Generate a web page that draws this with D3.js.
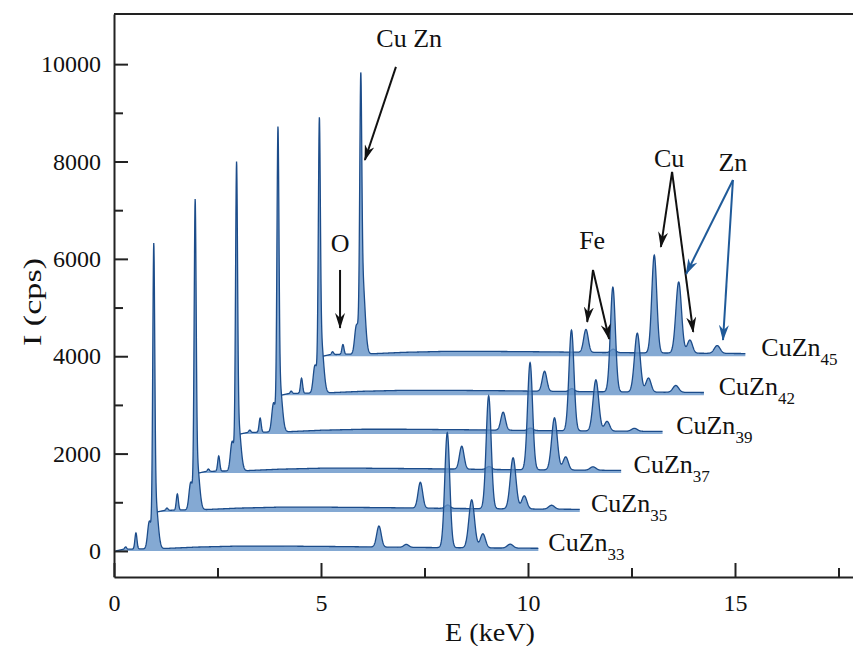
<!DOCTYPE html>
<html><head><meta charset="utf-8">
<script src="https://cdn.jsdelivr.net/npm/d3@7"></script>
<style>
body{margin:0;background:#fff;}
svg{display:block;}
</style>
</head><body>
<svg id="chart" width="853" height="646"></svg>
<script>
// ---- data ----
const samples = ["CuZn33","CuZn35","CuZn37","CuZn39","CuZn42","CuZn45"];
const sampleSubs = ["33","35","37","39","42","45"];
const xShift = [0, 1, 2, 3, 4, 5];              // keV offset of each spectrum
const yShift = [0, 800, 1600, 2400, 3200, 4000]; // cps offset of each spectrum
const eStart = 0.04, eEnd = 10.25;               // keV range of each spectrum

// X-ray lines: C K, O K, L shoulder, L main, L broad, Fe Ka, Fe Kb, Cu Ka, Zn Ka, Cu Kb, Zn Kb
const lineE     = [0.28, 0.53, 0.85, 0.96, 1.00, 6.40, 7.06, 8.05, 8.64, 8.91, 9.57];
const lineSigma = [0.025, 0.025, 0.04, 0.024, 0.06, 0.055, 0.06, 0.06, 0.068, 0.062, 0.07];
// peak heights (cps above background) per spectrum
const peakC     = [50, 50, 50, 50, 50, 60];
const peakO     = [330, 330, 310, 290, 310, 200];
const peakLsh   = [520, 520, 560, 550, 520, 520];
const peakL     = [5465, 5570, 5540, 5460, 4770, 4490];
const peakLb    = [1000, 1000, 1000, 1000, 1100, 1600];
const peakFeKa  = [430, 530, 470, 370, 410, 470];
const peakFeKb  = [60, 70, 60, 50, 60, 70];
const peakCuKa  = [2360, 2320, 2200, 2070, 2150, 2010];
const peakZnKa  = [985, 1050, 1070, 1050, 1210, 1460];
const peakCuKb  = [290, 270, 270, 200, 290, 270];
const peakZnKb  = [80, 80, 70, 60, 140, 160];
// background (bremsstrahlung) level read at a few energies
const bgE = [0.04, 0.2, 0.5, 1.2, 2.0, 3.0, 4.0, 5.5, 7.0, 8.5, 10.25];
const bgI = [0, 30, 40, 50, 80, 100, 100, 90, 75, 65, 55];

const xTicksMajor = [0, 5, 10, 15];
const xTicksMinor = [2.5, 7.5, 12.5, 17.5];
const yTicksMajor = [0, 2000, 4000, 6000, 8000, 10000];
const yTicksMinor = [1000, 3000, 5000, 7000, 9000];

// ---- chart ----
const FONT = '"Liberation Serif", "Times New Roman", Tinos, "DejaVu Serif", serif';
const svg = d3.select("#chart");
const x = d3.scaleLinear().domain([0, 18]).range([114, 859.2]);
const y = d3.scaleLinear().domain([-535, 11030]).range([577, 14]);
const bg = d3.scaleLinear().domain(bgE).range(bgI).clamp(true);

const peakTable = [peakC, peakO, peakLsh, peakL, peakLb, peakFeKa, peakFeKb, peakCuKa, peakZnKa, peakCuKb, peakZnKb];

function spectrum(i) {
  const pts = [];
  for (let e = eStart; e <= eEnd + 1e-9; e += 0.005) {
    let v = bg(e);
    for (let k = 0; k < lineE.length; k++) {
      const d = e - lineE[k], s = lineSigma[k];
      v += peakTable[k][i] * Math.exp(-d * d / (2 * s * s));
    }
    pts.push([e, v]);
  }
  return pts;
}

const gSpec = svg.append("g");
const order = d3.range(samples.length).reverse();
order.forEach(i => {
  const pts = spectrum(i);
  const area = d3.area()
    .x(d => x(d[0] + xShift[i]))
    .y0(y(yShift[i]))
    .y1(d => y(d[1] + yShift[i]));
  const line = d3.line()
    .x(d => x(d[0] + xShift[i]))
    .y(d => y(d[1] + yShift[i]));
  gSpec.append("path").attr("d", area(pts))
    .attr("fill", "#6593c8").attr("fill-opacity", 0.8);
  gSpec.append("path").attr("d", line(pts))
    .attr("fill", "none").attr("stroke", "#1c4c8a").attr("stroke-width", 1.3);
});

// sample labels
samples.forEach((s, i) => {
  const t = svg.append("text")
    .attr("x", x(eEnd + xShift[i]) + 10 + 1.2 * i)
    .attr("y", y(yShift[i]))
    .attr("font-family", FONT).attr("fill", "#111")
    .attr("font-size", 26);
  t.append("tspan").text("CuZn");
  t.append("tspan").attr("font-size", 17).attr("dy", 9).text(sampleSubs[i]);
});

// axes
const axisColor = "#222";
const gx = svg.append("g").attr("transform", `translate(0,${y.range()[0]})`)
  .call(d3.axisBottom(x).tickValues(xTicksMajor).tickSizeInner(-14).tickSizeOuter(0).tickPadding(17).tickFormat(d3.format("d")));
const gxm = svg.append("g").attr("transform", `translate(0,${y.range()[0]})`)
  .call(d3.axisBottom(x).tickValues(xTicksMinor).tickSizeInner(-9).tickSizeOuter(0).tickFormat(""));
const gy = svg.append("g").attr("transform", `translate(${x(0)},0)`)
  .call(d3.axisLeft(y).tickValues(yTicksMajor).tickSizeInner(-14).tickSizeOuter(0).tickPadding(13).tickFormat(d3.format("d")));
const gym = svg.append("g").attr("transform", `translate(${x(0)},0)`)
  .call(d3.axisLeft(y).tickValues(yTicksMinor).tickSizeInner(-9).tickSizeOuter(0).tickFormat(""));
[gx, gxm, gy, gym].forEach(g => {
  g.attr("font-family", FONT).attr("font-size", 24);
  g.selectAll("path,line").attr("stroke", axisColor).attr("stroke-width", 2);
  g.selectAll("text").attr("fill", "#111");
});
gxm.select(".domain").remove();
gym.select(".domain").remove();
// top frame line
svg.append("line").attr("x1", x(0)).attr("x2", x.range()[1])
  .attr("y1", y.range()[1]).attr("y2", y.range()[1])
  .attr("stroke", axisColor).attr("stroke-width", 2);

// axis titles
svg.append("text").attr("x", 490).attr("y", 641).attr("text-anchor", "middle")
  .attr("font-family", FONT).attr("fill", "#111")
  .attr("font-size", 26).attr("textLength", 90).attr("lengthAdjust", "spacingAndGlyphs").text("E (keV)");
svg.append("text").attr("transform", "translate(41,302) rotate(-90)").attr("text-anchor", "middle")
  .attr("font-family", FONT).attr("fill", "#111")
  .attr("font-size", 26).attr("textLength", 88).attr("lengthAdjust", "spacingAndGlyphs").text("I (cps)");

// annotations (data coordinates)
const defs = svg.append("defs");
function marker(id, color) {
  defs.append("marker").attr("id", id)
    .attr("viewBox", "0 0 16 10").attr("refX", 15).attr("refY", 5)
    .attr("markerWidth", 16).attr("markerHeight", 10)
    .attr("markerUnits", "userSpaceOnUse").attr("orient", "auto")
    .append("path").attr("d", "M0,0 L16,5 L0,10 L5,5 Z").attr("fill", color);
}
marker("arrBlack", "#111");
marker("arrBlue", "#1f5a99");

const annoTexts = [
  {t: "Cu Zn", e: 7.13, i: 10538},
  {t: "O", e: 5.46, i: 6327},
  {t: "Fe", e: 11.55, i: 6389},
  {t: "Cu", e: 13.41, i: 8073},
  {t: "Zn", e: 14.95, i: 7991}
];
const annoArrows = [
  {e0: 6.81, i0: 9943, e1: 6.06, i1: 8032, c: "black"},
  {e0: 5.46, i0: 5772, e1: 5.46, i1: 4581, c: "black"},
  {e0: 11.57, i0: 5772, e1: 11.43, i1: 4704, c: "black"},
  {e0: 11.57, i0: 5772, e1: 11.96, i1: 4355, c: "black"},
  {e0: 13.48, i0: 7786, e1: 13.21, i1: 6245, c: "black"},
  {e0: 13.48, i0: 7786, e1: 13.99, i1: 4499, c: "black"},
  {e0: 14.95, i0: 7621, e1: 13.82, i1: 5690, c: "blue"},
  {e0: 14.95, i0: 7621, e1: 14.71, i1: 4334, c: "blue"}
];
annoTexts.forEach(a => {
  svg.append("text").attr("x", x(a.e)).attr("y", y(a.i) + 9)
    .attr("font-family", FONT).attr("fill", "#111")
    .attr("text-anchor", "middle").attr("font-size", 26).text(a.t);
});
annoArrows.forEach(a => {
  svg.append("line")
    .attr("x1", x(a.e0)).attr("y1", y(a.i0)).attr("x2", x(a.e1)).attr("y2", y(a.i1))
    .attr("stroke", a.c === "blue" ? "#1f5a99" : "#111").attr("stroke-width", 2)
    .attr("marker-end", a.c === "blue" ? "url(#arrBlue)" : "url(#arrBlack)");
});
</script>
</body></html>
